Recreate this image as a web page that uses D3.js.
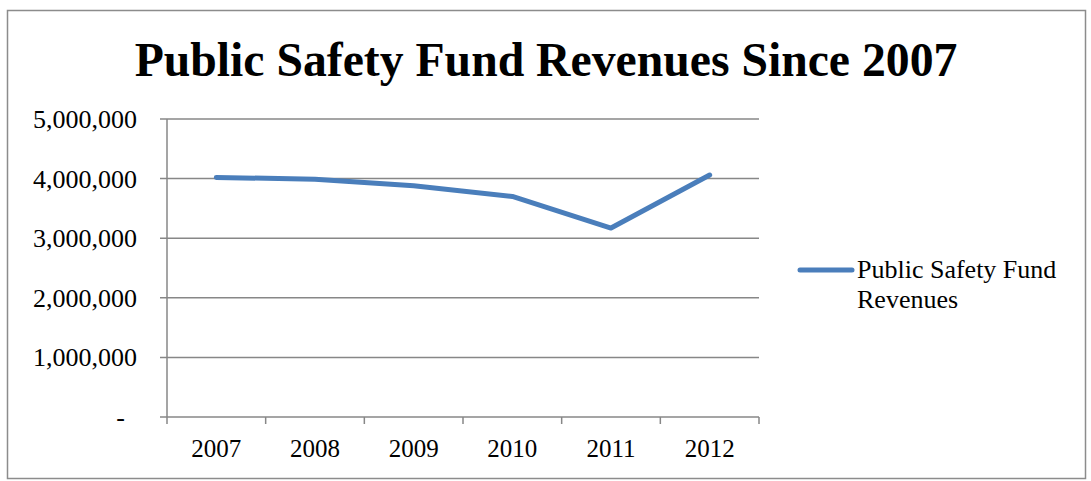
<!DOCTYPE html>
<html>
<head>
<meta charset="utf-8">
<script src="https://cdn.jsdelivr.net/npm/d3@7"></script>
<style>
  html, body { margin: 0; padding: 0; background: #fff; }
  svg { display: block; }
  text { font-family: "Liberation Serif", "Times New Roman", serif; fill: #000; }
</style>
</head>
<body>
<svg id="chart" width="1091" height="481"></svg>
<script>
// Public Safety Fund revenues by year
const years = ["2007", "2008", "2009", "2010", "2011", "2012"];
const revenues = [4020000, 3990000, 3880000, 3700000, 3170000, 4060000];
const yTicks = [0, 1000000, 2000000, 3000000, 4000000, 5000000];
const seriesName = "Public Safety Fund Revenues";
const titleText = "Public Safety Fund Revenues Since 2007";

const svg = d3.select("#chart");

// outer frame
svg.append("rect")
  .attr("x", 7.5).attr("y", 10.5)
  .attr("width", 1078).attr("height", 468)
  .attr("fill", "#fff").attr("stroke", "#8c8c8c").attr("stroke-width", 1.5);

// title
svg.append("text")
  .attr("x", 546).attr("y", 76)
  .attr("text-anchor", "middle")
  .attr("font-size", 47.7).attr("font-weight", "bold")
  .text(titleText);

const plot = { left: 167, right: 759, top: 119, bottom: 417 };

const x = d3.scaleBand().domain(years).range([plot.left, plot.right]);
const y = d3.scaleLinear().domain([0, 5000000]).range([plot.bottom, plot.top]);

const gridColor = "#878787";

// horizontal gridlines with outward ticks on the value axis
svg.append("g").selectAll("line.grid")
  .data(yTicks).join("line")
  .attr("x1", plot.left - 7).attr("x2", plot.right)
  .attr("y1", d => y(d)).attr("y2", d => y(d))
  .attr("stroke", gridColor).attr("stroke-width", 1.5);

// value axis line
svg.append("line")
  .attr("x1", plot.left).attr("x2", plot.left)
  .attr("y1", plot.top).attr("y2", plot.bottom + 7)
  .attr("stroke", gridColor).attr("stroke-width", 1.5);

// category tick marks at band boundaries
const bounds = years.map(d => x(d)).concat([plot.right]);
svg.append("g").selectAll("line.xt")
  .data(bounds.slice(1)).join("line")
  .attr("x1", d => d).attr("x2", d => d)
  .attr("y1", plot.bottom).attr("y2", plot.bottom + 7)
  .attr("stroke", gridColor).attr("stroke-width", 1.5);

// value labels
const fmt = d3.format(",");
svg.append("g").selectAll("text")
  .data(yTicks).join("text")
  .attr("x", d => d === 0 ? 125 : 137)
  .attr("y", d => y(d) + 9)
  .attr("text-anchor", "end")
  .attr("font-size", 26)
  .text(d => d === 0 ? "-" : fmt(d));

// category labels
svg.append("g").selectAll("text")
  .data(years).join("text")
  .attr("x", d => x(d) + x.bandwidth() / 2)
  .attr("y", 457)
  .attr("text-anchor", "middle")
  .attr("font-size", 25)
  .text(d => d);

// series line
const lineColor = "#4a7ebb";
const line = d3.line()
  .x((d, i) => x(years[i]) + x.bandwidth() / 2)
  .y(d => y(d));
svg.append("path")
  .datum(revenues)
  .attr("d", line)
  .attr("fill", "none")
  .attr("stroke", lineColor)
  .attr("stroke-width", 5)
  .attr("stroke-linecap", "round")
  .attr("stroke-linejoin", "round");

// legend
svg.append("line")
  .attr("x1", 800).attr("x2", 852)
  .attr("y1", 270).attr("y2", 270)
  .attr("stroke", lineColor).attr("stroke-width", 5)
  .attr("stroke-linecap", "round");
const legendText = svg.append("text")
  .attr("x", 857).attr("y", 278)
  .attr("font-size", 26);
legendText.append("tspan").attr("x", 857).attr("dy", 0).text("Public Safety Fund");
legendText.append("tspan").attr("x", 857).attr("dy", 30).text("Revenues");
</script>
</body>
</html>
